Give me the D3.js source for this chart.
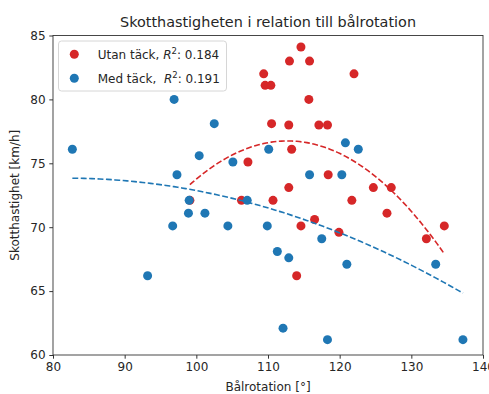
<!DOCTYPE html>
<meta charset="utf-8">
<style>
body { margin: 0; background: #fff; }
svg text { font-family: "DejaVu Sans", sans-serif; fill: #262626; }
.tick text { font-size: 12px; }
.tick line { stroke: #333; }
.domain { stroke: none; }
</style>
<svg width="489" height="394"></svg>
<script src="https://d3js.org/d3.v7.min.js"></script>
<script>

// Utan täck (red)
var utanX = [99.1, 107.2, 106.3, 109.4, 109.6, 110.4, 110.5, 112.9, 113.0, 114.6,
             115.8, 115.7, 117.1, 118.3, 113.3, 110.7, 112.9, 118.4, 122.0, 114.6,
             116.5, 114.0, 119.9, 121.7, 124.7, 127.2, 126.6, 132.1, 134.6];
var utanY = [72.1, 75.1, 72.1, 82.0, 81.1, 81.1, 78.1, 78.0, 83.0, 84.1,
             83.0, 80.0, 78.0, 78.0, 76.1, 72.1, 73.1, 74.1, 82.0, 70.1,
             70.6, 66.2, 69.6, 72.1, 73.1, 73.1, 71.1, 69.1, 70.1];

// Med täck (blue)
var medX = [82.7, 96.9, 97.3, 100.4, 102.5, 105.1, 110.1, 115.8, 120.3, 120.8,
            122.6, 99.0, 98.9, 96.7, 93.2, 101.2, 104.4, 107.1, 109.9, 111.3,
            112.9, 117.5, 112.1, 118.3, 121.0, 133.4, 137.2];
var medY = [76.1, 80.0, 74.1, 75.6, 78.1, 75.1, 76.1, 74.1, 74.1, 76.6,
            76.1, 72.1, 71.1, 70.1, 66.2, 71.1, 70.1, 72.1, 70.1, 68.1,
            67.6, 69.1, 62.1, 61.2, 67.1, 67.1, 61.2];

var xTicks = [80, 90, 100, 110, 120, 130, 140];
var yTicks = [60, 65, 70, 75, 80, 85];
var legendLabels = ["Utan täck, ", "Med täck,  "];
var r2Labels = ["0.184", "0.191"];
var colors = ["#d62728", "#1f77b4"];

var svg = d3.select("svg");
var margin = {left: 53, right: 6, top: 35.5, bottom: 39};
var W = 489, H = 394;

var x = d3.scaleLinear().domain([80, 140]).range([margin.left, W - margin.right]);
var y = d3.scaleLinear().domain([60, 85]).range([H - margin.bottom, margin.top]);

// quadratic least squares
function polyfit2(xs, ys) {
  var S = [0, 0, 0, 0, 0], T = [0, 0, 0];
  xs.forEach(function(xi, i) {
    for (var k = 0; k < 5; k++) S[k] += Math.pow(xi, k);
    for (var k = 0; k < 3; k++) T[k] += Math.pow(xi, k) * ys[i];
  });
  var A = [[S[0], S[1], S[2], T[0]], [S[1], S[2], S[3], T[1]], [S[2], S[3], S[4], T[2]]];
  for (var c = 0; c < 3; c++) {
    for (var rr = c + 1; rr < 3; rr++) {
      var f = A[rr][c] / A[c][c];
      for (var k = c; k < 4; k++) A[rr][k] -= f * A[c][k];
    }
  }
  var b = [0, 0, 0];
  for (var c = 2; c >= 0; c--) {
    var s = A[c][3];
    for (var k = c + 1; k < 3; k++) s -= A[c][k] * b[k];
    b[c] = s / A[c][c];
  }
  return function(v) { return b[0] + b[1] * v + b[2] * v * v; };
}

svg.append("clipPath").attr("id", "clip")
  .append("rect")
  .attr("x", margin.left).attr("y", margin.top)
  .attr("width", W - margin.left - margin.right)
  .attr("height", H - margin.top - margin.bottom);

var plot = svg.append("g").attr("clip-path", "url(#clip)");

var series = [
  {xs: utanX, ys: utanY, color: colors[0]},
  {xs: medX, ys: medY, color: colors[1]}
];

series.forEach(function(s) {
  plot.append("g").selectAll("circle")
    .data(d3.range(s.xs.length))
    .enter().append("circle")
      .attr("cx", function(i) { return x(s.xs[i]); })
      .attr("cy", function(i) { return y(s.ys[i]); })
      .attr("r", 4.5)
      .attr("fill", s.color);
});

var line = d3.line()
  .x(function(d) { return x(d[0]); })
  .y(function(d) { return y(d[1]); });

// fitted curve, drawn over the range of each series
series.forEach(function(s) {
  var fit = polyfit2(s.xs, s.ys);
  var ext = d3.extent(s.xs);
  var pts = d3.range(0, 101).map(function(j) {
    var v = ext[0] + (ext[1] - ext[0]) * j / 100;
    return [v, fit(v)];
  });
  plot.append("path")
    .attr("d", line(pts))
    .attr("fill", "none")
    .attr("stroke", s.color)
    .attr("stroke-width", 1.6)
    .attr("stroke-dasharray", "5.9,2.5");
});

// axes
svg.append("g")
  .attr("transform", "translate(0," + (H - margin.bottom) + ")")
  .call(d3.axisBottom(x).tickValues(xTicks).tickSize(3.7).tickPadding(3.7));
svg.append("g")
  .attr("transform", "translate(" + margin.left + ",0)")
  .call(d3.axisLeft(y).tickValues(yTicks).tickSize(3.7).tickPadding(3.7));

svg.append("rect")
  .attr("x", margin.left).attr("y", margin.top)
  .attr("width", W - margin.left - margin.right)
  .attr("height", H - margin.top - margin.bottom)
  .attr("fill", "none")
  .attr("stroke", "#333")
  .attr("stroke-width", 0.9);

svg.append("text")
  .attr("x", (margin.left + W - margin.right) / 2)
  .attr("y", 26.5)
  .attr("text-anchor", "middle")
  .style("font-size", "14.4px")
  .text("Skotthastigheten i relation till bålrotation");

svg.append("text")
  .attr("x", (margin.left + W - margin.right) / 2)
  .attr("y", 391)
  .attr("text-anchor", "middle")
  .style("font-size", "12px")
  .text("Bålrotation [°]");

svg.append("text")
  .attr("transform", "translate(18.5," + ((margin.top + H - margin.bottom) / 2) + ") rotate(-90)")
  .attr("text-anchor", "middle")
  .style("font-size", "12px")
  .text("Skotthastighet [km/h]");

// legend
var legend = svg.append("g");
legend.append("rect")
  .attr("x", 58.5).attr("y", 41)
  .attr("width", 168).attr("height", 50)
  .attr("rx", 3)
  .attr("fill", "#fff").attr("fill-opacity", 0.8)
  .attr("stroke", "#ccc").attr("stroke-width", 0.8);

legendLabels.forEach(function(lab, i) {
  var cy = 54.3 + i * 24;
  legend.append("circle").attr("cx", 74.3).attr("cy", cy).attr("r", 4.5).attr("fill", colors[i]);
  var t = legend.append("text")
    .attr("x", 97.7).attr("y", cy + 4.3)
    .style("font-size", "12px")
    .style("white-space", "pre");
  t.append("tspan").text(lab);
  t.append("tspan").style("font-style", "italic").text("R");
  t.append("tspan").attr("dy", -4.5).style("font-size", "8.5px").text("2");
  t.append("tspan").attr("dy", 4.5).text(": " + r2Labels[i]);
});

</script>
